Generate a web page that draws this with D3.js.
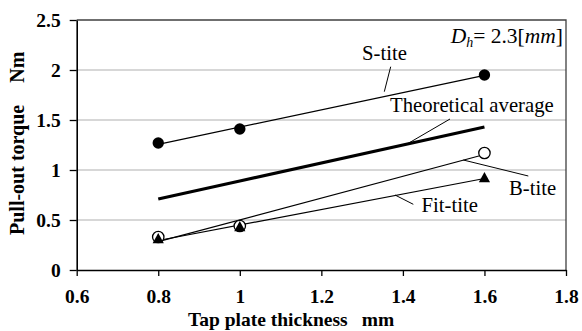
<!DOCTYPE html>
<html>
<head>
<meta charset="utf-8">
<script src="https://cdn.jsdelivr.net/npm/d3@7"></script>
<style>
  html, body { margin: 0; padding: 0; background: #fff; }
  svg { display: block; font-family: 'Liberation Serif', 'Times New Roman', serif; }
</style>
</head>
<body>
<div id="chart"></div>
<script>
// Data
const thickness = [0.8, 1.0, 1.6];
const sTite = [1.27, 1.41, 1.95];
const bTite = [0.33, 0.44, 1.17];
const fitTite = [0.31, 0.43, 0.92];
const theoreticalAvg = [0.71, 0.89, 1.43];
const xTicks = [0.6, 0.8, 1.0, 1.2, 1.4, 1.6, 1.8];
const yTicks = [0, 0.5, 1, 1.5, 2, 2.5];

const config = {
  width: 582,
  height: 331,
  margin: { top: 20, right: 16, bottom: 61, left: 76.7 }
};
const innerW = config.width - config.margin.left - config.margin.right;
const innerH = config.height - config.margin.top - config.margin.bottom;

const svg = d3.select('#chart').append('svg')
  .attr('width', config.width)
  .attr('height', config.height);
const g = svg.append('g')
  .attr('transform', `translate(${config.margin.left},${config.margin.top})`);

const xScale = d3.scaleLinear().domain([0.6, 1.8]).range([0, innerW]);
const yScale = d3.scaleLinear().domain([0, 2.5]).range([innerH, 0]);

// least squares trendline, drawn between the first and last thickness
function trend (xs, ys) {
  const mx = d3.mean(xs), my = d3.mean(ys);
  const slope = d3.sum(xs, (x, i) => (x - mx) * (ys[i] - my)) / d3.sum(xs, x => (x - mx) ** 2);
  const x0 = d3.min(xs), x1 = d3.max(xs);
  return [[x0, my + slope * (x0 - mx)], [x1, my + slope * (x1 - mx)]];
}

// gridlines
g.append('g')
  .selectAll('line')
  .data(yTicks.filter(d => d > 0 && d < 2.5))
  .enter().append('line')
  .attr('x1', 0).attr('x2', innerW)
  .attr('y1', d => yScale(d)).attr('y2', d => yScale(d))
  .attr('stroke', '#b0b0b0').attr('stroke-width', 1.2);

// frame top and right
g.append('path')
  .attr('d', `M0,0H${innerW}V${innerH}`)
  .attr('fill', 'none').attr('stroke', '#404040').attr('stroke-width', 1.3);

// axes
const yAxis = g.append('g')
  .call(d3.axisLeft(yScale).tickValues(yTicks).tickFormat(d3.format('~g')).tickSize(7).tickPadding(9).tickSizeOuter(0));
const xAxis = g.append('g')
  .attr('transform', `translate(0,${innerH})`)
  .call(d3.axisBottom(xScale).tickValues(xTicks).tickFormat(d3.format('~g')).tickSize(6).tickPadding(13).tickSizeOuter(0));

[yAxis, xAxis].forEach(ax => {
  ax.attr('font-family', null).attr('font-size', null);
  ax.select('.domain').attr('stroke', '#000').attr('stroke-width', 1.6);
  ax.selectAll('.tick line').attr('stroke', '#000').attr('stroke-width', 1.3);
  ax.selectAll('.tick text')
    .attr('font-size', 19.5).attr('font-weight', 'bold').attr('fill', '#000');
});

const line = d3.line().x(d => xScale(d[0])).y(d => yScale(d[1]));

// trend lines
[sTite, bTite, fitTite].forEach(vals => {
  g.append('path')
    .datum(trend(thickness, vals))
    .attr('d', line)
    .attr('fill', 'none').attr('stroke', '#000').attr('stroke-width', 1.2);
});

// theoretical average
g.append('path')
  .datum(thickness.map((t, i) => [t, theoreticalAvg[i]]))
  .attr('d', line)
  .attr('fill', 'none').attr('stroke', '#000').attr('stroke-width', 3.2);

// markers
g.append('g').selectAll('circle')
  .data(thickness.map((t, i) => [t, sTite[i]]))
  .enter().append('circle')
  .attr('cx', d => xScale(d[0])).attr('cy', d => yScale(d[1]))
  .attr('r', 5.7).attr('fill', '#000');

g.append('g').selectAll('circle')
  .data(thickness.map((t, i) => [t, bTite[i]]))
  .enter().append('circle')
  .attr('cx', d => xScale(d[0])).attr('cy', d => yScale(d[1]))
  .attr('r', 5.7).attr('fill', '#fff').attr('stroke', '#000').attr('stroke-width', 1.3);

g.append('g').selectAll('path')
  .data(thickness.map((t, i) => [t, fitTite[i]]))
  .enter().append('path')
  .attr('transform', d => `translate(${xScale(d[0])},${yScale(d[1])})`)
  .attr('d', 'M0,-6L5.6,4.3L-5.6,4.3Z')
  .attr('fill', '#000');

// annotations and leader lines (page coordinates)
const labels = [
  { text: 'S-tite', x: 362, y: 60, lx1: 390.7, ly1: 66.7, lx2: 384.3, ly2: 91.7 },
  { text: 'Theoretical average', x: 390, y: 112, lx1: 450, ly1: 119, lx2: 408.3, ly2: 143.3 },
  { text: 'B-tite', x: 509, y: 195, lx1: 528.3, ly1: 176, lx2: 463.3, ly2: 160 },
  { text: 'Fit-tite', x: 421.5, y: 212, lx1: 413.3, ly1: 204.3, lx2: 395, ly2: 195 }
];
labels.forEach(l => {
  svg.append('text')
    .attr('x', l.x).attr('y', l.y)
    .attr('font-size', 20.7).attr('fill', '#000')
    .text(l.text);
  svg.append('line')
    .attr('x1', l.lx1).attr('y1', l.ly1).attr('x2', l.lx2).attr('y2', l.ly2)
    .attr('stroke', '#000').attr('stroke-width', 1);
});

// D_h = 2.3[mm]
const dh = svg.append('text')
  .attr('x', 563).attr('y', 43)
  .attr('text-anchor', 'end')
  .attr('font-size', 21.5).attr('fill', '#000');
dh.append('tspan').attr('font-style', 'italic').text('D');
dh.append('tspan').attr('font-style', 'italic').attr('font-size', 14).attr('dy', 4).text('h');
dh.append('tspan').attr('dy', -4).text('= 2.3[');
dh.append('tspan').attr('font-style', 'italic').text('mm');
dh.append('tspan').text(']');

// axis titles
const xt = svg.append('text')
  .attr('x', 188).attr('y', 326)
  .attr('font-size', 19.5).attr('font-weight', 'bold').attr('fill', '#000');
xt.append('tspan').text('Tap plate thickness');
xt.append('tspan').attr('dx', 14).text('mm');

const yt = svg.append('text')
  .attr('transform', 'translate(24,235) rotate(-90)')
  .attr('font-size', 20).attr('font-weight', 'bold').attr('fill', '#000');
yt.append('tspan').text('Pull-out torque');
yt.append('tspan').attr('dx', 22).text('Nm');
</script>
</body>
</html>
